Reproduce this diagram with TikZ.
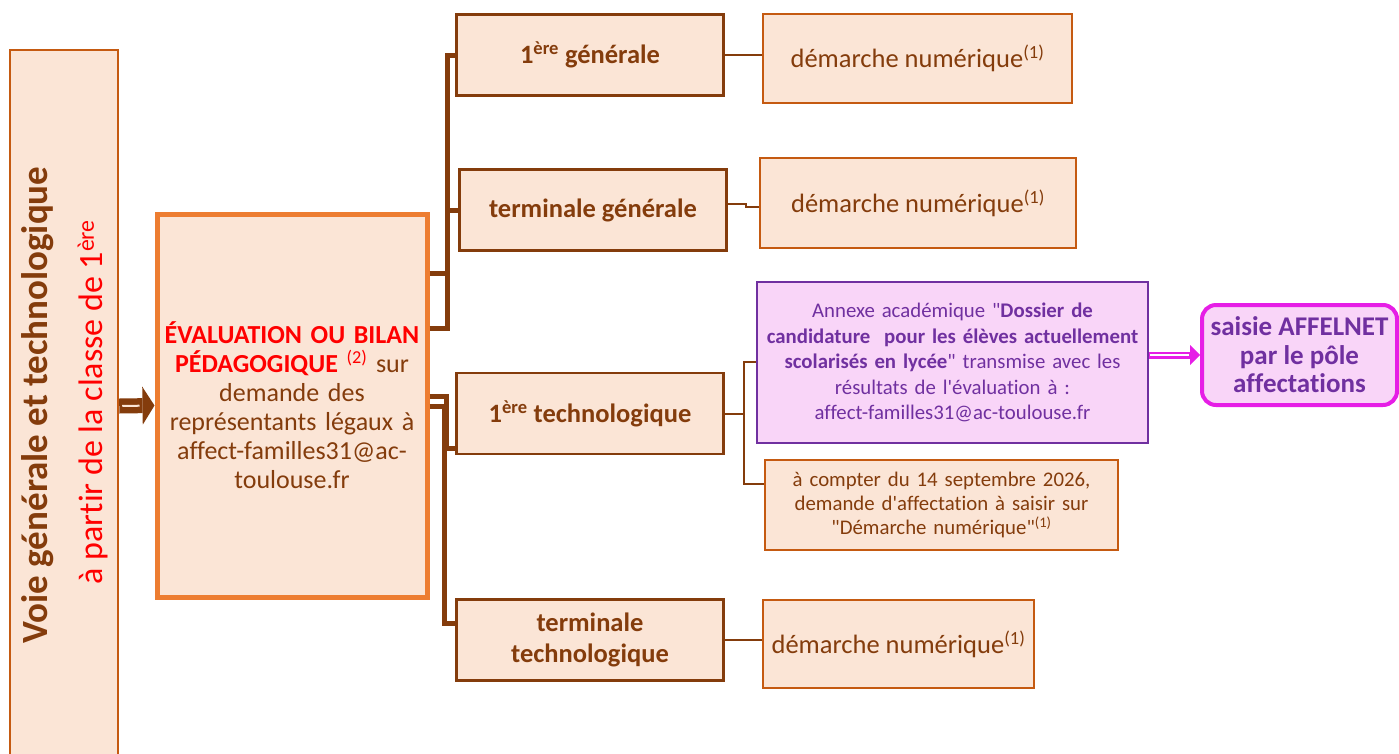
\documentclass[tikz,border=0pt]{standalone}
\usepackage{fontspec}
\setmainfont{Carlito}[Ligatures={TeXOff,NoCommon}]
\usetikzlibrary{arrows.meta}
\definecolor{brun}{HTML}{843C0C}
\definecolor{orfonce}{HTML}{C55A11}
\definecolor{orclair}{HTML}{ED7D31}
\definecolor{peche}{HTML}{FBE5D6}
\definecolor{violet}{HTML}{7030A0}
\definecolor{rose}{HTML}{F9D5F8}
\definecolor{magentavif}{HTML}{E61EE6}
\definecolor{rouge}{HTML}{FF0000}

\begin{document}
\begin{tikzpicture}
	[
	x = 1pt, y = -1pt,
	boite/.style = {draw, fill=peche, inner sep=0pt, align=center},
	branche/.style = {boite, draw=brun, text=brun, line width=2.5pt, minimum width=267pt, minimum height=81pt, font=\fontsize{26.5}{31}\selectfont\bfseries},
	demarche/.style = {boite, draw=orfonce, text=brun, line width=2.5pt, font=\fontsize{26.5}{31}\selectfont},
	lien/.style = {brun, line width=2pt},
	crochet/.style = {brun, line width=5pt}
	]
	
	\clip (0,0) rectangle (1399,753);
	
	% colonne de gauche
	\node[boite, draw=orfonce, line width=2.5pt, minimum width=108pt, minimum height=712pt] (voie) at (64,406) {};
	\node[rotate=90, text=brun, font=\fontsize{37}{40}\selectfont\bfseries] (voie_titre) at (38,405) {Voie générale et technologique};
	\node[rotate=90, text=rouge, font=\fontsize{34}{38}\selectfont] (voie_sous) at (93,402) {à partir de la classe de 1\textsuperscript{ère}};
	
	\node[boite, draw=orclair, line width=5pt, minimum width=270pt, minimum height=383pt, text width=262pt, text=brun, font=\fontsize{26}{29}\selectfont] (eval) at (292,405.5)
	{{\color{rouge}\bfseries ÉVALUATION OU BILAN}\\ {\color{rouge}\bfseries PÉDAGOGIQUE} {\color{rouge}\textsuperscript{(2)}} sur\\ demande des\\ représentants légaux à\\ affect-familles31@ac-\\ toulouse.fr};
	
	% classes
	\node[branche] (prem_gen) at (590,55) {1\textsuperscript{ère} générale};
	\node[branche] (term_gen) at (593,210) {terminale générale};
	\node[branche] (prem_tech) at (590,413.5) {1\textsuperscript{ère} technologique};
	\node[branche] (term_tech) at (590,640) {terminale\\ technologique};
	
	% demarches
	\node[demarche, minimum width=309pt, minimum height=89pt] (dn_prem_gen) at (917.5,58.5) {démarche numérique\textsuperscript{(1)}};
	\node[demarche, minimum width=316pt, minimum height=90pt] (dn_term_gen) at (918,203) {démarche numérique\textsuperscript{(1)}};
	\node[demarche, minimum width=271pt, minimum height=88pt] (dn_term_tech) at (898.5,644) {démarche numérique\textsuperscript{(1)}};
	\node[demarche, minimum width=353pt, minimum height=90pt, text width=345pt, font=\fontsize{20.8}{24}\selectfont] (compter) at (941.5,505)
	{à compter du 14 septembre 2026,\\ demande d'affectation à saisir sur\\ "Démarche numérique"\textsuperscript{(1)}};
	\node[boite, draw=violet, fill=rose, text=violet, line width=2.5pt, minimum width=391pt, minimum height=161pt, text width=385pt, font=\fontsize{20.8}{25.5}\selectfont] (annexe) at (952.5,362.5)
	{Annexe académique "\textbf{Dossier de}\\ \textbf{candidature\ \ pour les élèves actuellement}\\ \textbf{scolarisés en lycée}" transmise avec les\\ résultats de l'évaluation à :\\ affect-familles31@ac-toulouse.fr};
	\node[boite, draw=magentavif, fill=rose, text=violet, line width=4pt, rounded corners=14pt, minimum width=195pt, minimum height=100pt, font=\fontsize{27}{28.5}\selectfont\bfseries] (affelnet) at (1299.5,355)
	{saisie AFFELNET\\ par le pôle\\ affectations};
	
	% fleches
	\draw[brun, line width=15pt, -{Triangle[length=12pt, width=38pt, line width=0pt]}] (voie.east) -- (eval.west);
	\draw[peche, line width=2pt, shorten <=3pt, shorten >=15pt] (voie.east) -- (eval.west);
	\draw[magentavif, line width=7pt, -{Triangle[length=10pt, width=20pt, line width=0pt]}] (annexe.east |- 0,355) -- (affelnet.west |- 0,355);
	\draw[white, line width=1.5pt, shorten <=1pt, shorten >=11pt] (annexe.east |- 0,355) -- (affelnet.west |- 0,355);
	
	% crochets
	\draw[crochet] (eval.east |- 0,273) -| (447,55) -- (prem_gen.west |- 0,55);
	\draw[crochet] (eval.east |- 0,328) -| (447,210) -- (term_gen.west |- 0,210);
	\draw[crochet] (eval.east |- 0,396) -| (446,448) -- (prem_tech.west |- 0,448);
	\draw[crochet] (eval.east |- 0,406) -| (444,623) -- (term_tech.west |- 0,623);
	
	% liens
	\coordinate (fourche) at (744,413.5);
	\draw[lien] (prem_gen.east) -- (dn_prem_gen.west |- prem_gen.east);
	\draw[lien] (term_gen.east |- 0,204) -- (746,204) -- (746,207) -- (dn_term_gen.west |- 0,207);
	\draw[lien] (prem_tech.east) -- (fourche) |- (annexe.west |- 0,362);
	\draw[lien] (fourche) |- (compter.west |- 0,484);
	\draw[lien] (term_tech.east) -- (dn_term_tech.west |- term_tech.east);
	
\end{tikzpicture}
\end{document}
